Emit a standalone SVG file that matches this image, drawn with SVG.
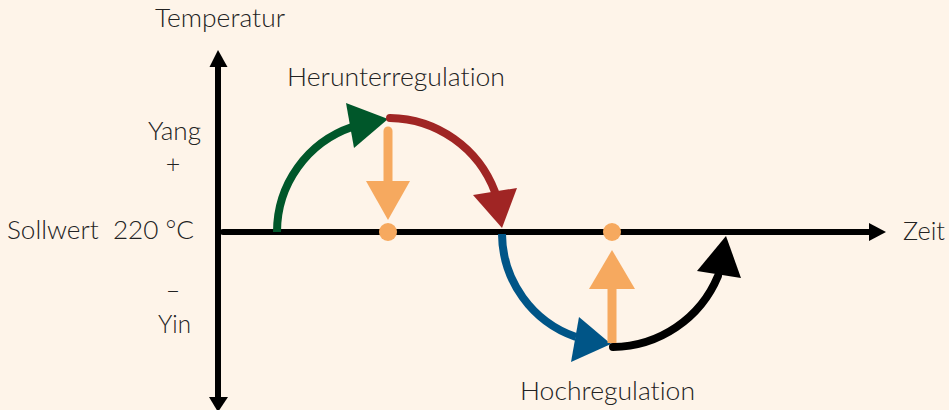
<svg xmlns="http://www.w3.org/2000/svg" width="949" height="410" viewBox="0 0 949 410">
<style>
text{font-family:Lato,"Open Sans","Liberation Sans",sans-serif;font-weight:300;font-size:25px;fill:#222;font-variant-ligatures:none;white-space:pre}
.arc{fill:none;stroke-width:8}
</style>
<rect width="949" height="410" fill="#FEF4E9"/>
<g id="axes">
<line x1="218" y1="64" x2="218" y2="400" stroke="#000" stroke-width="6"/>
<polygon points="218,50 209.5,67 227.5,67" fill="#000"/>
<polygon points="218,412 209,397 228,397" fill="#000"/>
<line x1="223" y1="232" x2="872" y2="232" stroke="#000" stroke-width="6" stroke-linecap="round"/>
<polygon points="886,232 869,223 869,241" fill="#000"/>
</g>
<g id="labels">
<text x="155" y="27" textLength="130" lengthAdjust="spacingAndGlyphs">Temperatur</text>
<text x="148" y="140" textLength="53" lengthAdjust="spacingAndGlyphs">Yang</text>
<text x="173" y="173" text-anchor="middle">+</text>
<text x="7" y="239" textLength="187" lengthAdjust="spacingAndGlyphs">Sollwert  220 °C</text>
<text x="173" y="299" text-anchor="middle">–</text>
<text x="158" y="333" textLength="33" lengthAdjust="spacingAndGlyphs">Yin</text>
<text x="903" y="240" textLength="42" lengthAdjust="spacingAndGlyphs">Zeit</text>
</g>
<g id="connectors">
<g id="green-up">
<path class="arc" stroke="#00572A" d="M277,232 A111,111 0 0 1 352,127"/>
<polygon points="346,103 354,148 388,119" fill="#00572A"/>
</g>
<g id="red-down">
<path class="arc" stroke="#A02524" stroke-linecap="round" d="M390,118 A114,114 0 0 1 495,192"/>
<polygon points="473,195 517,188 502,228" fill="#A02524"/>
</g>
<g id="blue-down">
<path class="arc" stroke="#005587" d="M502,234 A110,110 0 0 0 576,337"/>
<polygon points="579,317 571,362 611,344" fill="#005587"/>
</g>
<g id="black-up">
<path class="arc" stroke="#000" stroke-linecap="round" d="M613,347 A115,115 0 0 0 718,276"/>
<polygon points="697,271 741,278 726,236" fill="#000"/>
</g>
</g>
<g id="herunterregulation">
<text x="287" y="86" textLength="218" lengthAdjust="spacingAndGlyphs">Herunterregulation</text>
<line x1="388" y1="131" x2="388" y2="185" stroke="#F6A95F" stroke-width="9" stroke-linecap="round"/>
<polygon points="366,181 410,181 388,220" fill="#F6A95F"/>
<circle cx="388" cy="232" r="9" fill="#F6A95F"/>
</g>
<g id="hochregulation">
<text x="520" y="400" textLength="175" lengthAdjust="spacingAndGlyphs">Hochregulation</text>
<line x1="612" y1="288" x2="612" y2="343" stroke="#F6A95F" stroke-width="9"/>
<polygon points="589,289 635,289 612,250" fill="#F6A95F"/>
<circle cx="612" cy="232" r="9" fill="#F6A95F"/>
</g>
</svg>
